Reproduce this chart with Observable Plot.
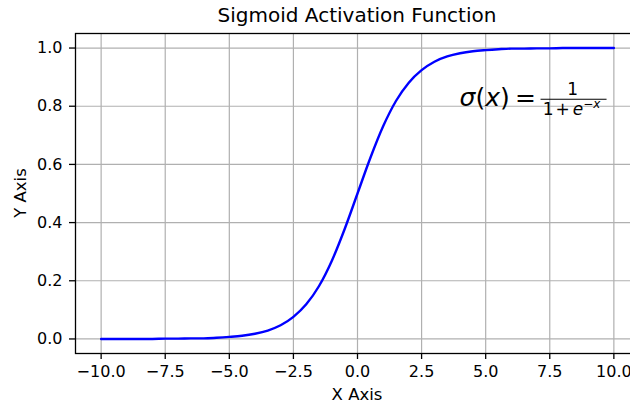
<!DOCTYPE html>
<html>
<head>
<meta charset="utf-8">
<script src="https://cdn.jsdelivr.net/npm/d3@7"></script>
<script src="https://cdn.jsdelivr.net/npm/@observablehq/plot@0.6"></script>
<style>
  html, body { margin: 0; padding: 0; background: white; overflow: hidden; }
</style>
</head>
<body>
<div id="chart"></div>
<script>
// Values
const xValues = [-10, -9.5, -9, -8.5, -8, -7.5, -7, -6.5, -6, -5.5, -5, -4.5, -4, -3.5, -3, -2.5, -2, -1.5, -1, -0.5,
                 0, 0.5, 1, 1.5, 2, 2.5, 3, 3.5, 4, 4.5, 5, 5.5, 6, 6.5, 7, 7.5, 8, 8.5, 9, 9.5, 10];
const yValues = [0.000, 0.000, 0.000, 0.000, 0.000, 0.001, 0.001, 0.002, 0.002, 0.004, 0.007, 0.011, 0.018, 0.029, 0.047, 0.076, 0.119, 0.182, 0.269, 0.378,
                 0.500, 0.622, 0.731, 0.818, 0.881, 0.924, 0.953, 0.971, 0.982, 0.989, 0.993, 0.996, 0.998, 0.998, 0.999, 0.999, 1.000, 1.000, 1.000, 1.000, 1.000];
const xTicks = [-10, -7.5, -5, -2.5, 0, 2.5, 5, 7.5, 10];
const yTicks = [0, 0.2, 0.4, 0.6, 0.8, 1.0];
const titleText = "Sigmoid Activation Function";
const xLabel = "X Axis";
const yLabel = "Y Axis";
const formulaPos = [4, 0.8];

const data = xValues.map((x, i) => ({x, y: yValues[i]}));
const fmt = d3.format(".1f");
const FONT = "DejaVu Sans";

function annotations(index, scales, values, dimensions) {
  const {width, height, marginTop, marginBottom, marginLeft, marginRight} = dimensions;
  const g = d3.create("svg:g").attr("font-family", FONT).attr("fill", "#000");
  const cx = (marginLeft + width - marginRight) / 2;
  const cy = (marginTop + height - marginBottom) / 2;
  g.append("text").attr("x", cx).attr("y", marginTop - 11)
    .attr("text-anchor", "middle").attr("font-size", 20).text(titleText);
  g.append("text").attr("x", cx).attr("y", height - 5)
    .attr("text-anchor", "middle").attr("font-size", 16.5).text(xLabel);
  g.append("text").attr("transform", `translate(25.5,${cy}) rotate(-90)`)
    .attr("text-anchor", "middle").attr("font-size", 16.5).text(yLabel);

  // formula  sigma(x) = 1 / (1 + e^-x)
  const X0 = scales.x(formulaPos[0]);
  const Y0 = scales.y(formulaPos[1]);
  const t = g.append("text").attr("x", X0).attr("y", Y0).attr("font-size", 25)
    .attr("text-anchor", "start");
  t.append("tspan").attr("font-style", "italic").text("σ");
  t.append("tspan").text("(");
  t.append("tspan").attr("font-style", "italic").text("x");
  t.append("tspan").text(")");
  g.append("text").attr("x", X0 + 66).attr("y", Y0).attr("font-size", 25)
    .attr("text-anchor", "middle").text("=");
  g.append("line").attr("x1", X0 + 81).attr("x2", X0 + 147)
    .attr("y1", Y0 - 6.5).attr("y2", Y0 - 6.5)
    .attr("stroke", "#000").attr("stroke-width", 1.2);
  g.append("text").attr("x", X0 + 113).attr("y", Y0 - 10.5).attr("font-size", 17)
    .attr("text-anchor", "middle").text("1");
  const d = g.append("text").attr("x", X0 + 112).attr("y", Y0 + 9.5).attr("font-size", 17)
    .attr("text-anchor", "middle");
  d.append("tspan").text("1");
  d.append("tspan").attr("dx", 2).text("+");
  d.append("tspan").attr("dx", 3).attr("font-style", "italic").text("e");
  d.append("tspan").attr("dy", -7).attr("font-size", 12).text("−");
  d.append("tspan").attr("font-size", 12).attr("font-style", "italic").text("x");
  return g.node();
}

const plot = Plot.plot({
  width: 630,
  height: 405,
  marginTop: 33,
  marginBottom: 52,
  marginLeft: 75,
  marginRight: -9,
  style: {fontFamily: FONT, fontSize: "16px", color: "#000", background: "white"},
  x: {domain: [-11, 11], label: null},
  y: {domain: [-0.05, 1.05], label: null},
  marks: [
    Plot.gridX(xTicks, {stroke: "#b0b0b0", strokeOpacity: 1, strokeWidth: 1.2}),
    Plot.gridY(yTicks, {stroke: "#b0b0b0", strokeOpacity: 1, strokeWidth: 1.2}),
    Plot.line(data, {x: "x", y: "y", stroke: "#0000ff", strokeWidth: 2.4, curve: "monotone-x"}),
    Plot.frame({stroke: "#000", strokeWidth: 1.3}),
    Plot.axisX(xTicks, {tickSize: 6, tickPadding: 6, tickFormat: fmt, label: null, strokeWidth: 1.3, fontSize: 16}),
    Plot.axisY(yTicks, {tickSize: 6, tickPadding: 7, tickFormat: fmt, label: null, strokeWidth: 1.3, fontSize: 16}),
    annotations
  ]
});
document.getElementById("chart").appendChild(plot);
</script>
</body>
</html>
